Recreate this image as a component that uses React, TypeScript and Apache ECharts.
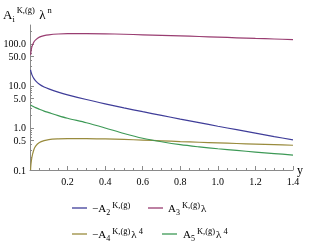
import React, { useEffect, useRef } from "react";
import * as echarts from "echarts";

const SERIF = "'Liberation Serif', 'DejaVu Serif', serif";

// lambda grid (x values)
const lambdas = [0.003, 0.005, 0.01, 0.02, 0.03, 0.05, 0.075, 0.1, 0.15, 0.2, 0.3, 0.4, 0.5, 0.6, 0.7, 0.8, 0.9, 1.0, 1.1, 1.2, 1.3, 1.4];
// -A2 lambda
const seriesA2 = [24.0, 21.9, 18.6, 15.1, 13.2, 10.96, 9.42, 8.49, 7.14, 6.15, 4.75, 3.76, 3.01, 2.44, 1.99, 1.63, 1.34, 1.1, 0.91, 0.753, 0.625, 0.52];
// A3 lambda
const seriesA3 = [55, 65, 85, 110, 125, 145, 158, 165, 172, 175, 176, 174, 170, 165, 160, 155, 150, 145, 140, 135, 131, 127];
// -A4 lambda^4
const seriesA4 = [0.1, 0.135, 0.2, 0.3, 0.37, 0.45, 0.5, 0.53, 0.55, 0.56, 0.56, 0.55, 0.535, 0.515, 0.495, 0.475, 0.458, 0.442, 0.427, 0.413, 0.4, 0.388];
// A5 lambda^4
const seriesA5 = [3.5, 3.47, 3.38, 3.2, 3.05, 2.8, 2.52, 2.32, 1.97, 1.7, 1.33, 1.0, 0.74, 0.57, 0.47, 0.4, 0.355, 0.32, 0.292, 0.267, 0.246, 0.227];

const yMajorTicks = [0.1, 0.5, 1, 5, 10, 50, 100];
const yMinorTicks = [0.2, 0.3, 0.4, 0.6, 0.7, 0.8, 0.9, 2, 3, 4, 6, 7, 8, 9, 20, 30, 40, 60, 70, 80, 90, 200];
const yMin = 0.1;
const yMax = 282;

const colors = ["#3F3D99", "#993D71", "#998B3D", "#3D9956"];

const legendRich = {
  m: { fontSize: 11, fontFamily: SERIF, lineHeight: 16, verticalAlign: "middle", fill: "#000" },
  sub: { fontSize: 8, fontFamily: SERIF, lineHeight: 7, verticalAlign: "bottom", fill: "#000" },
  sup: { fontSize: 8.5, fontFamily: SERIF, lineHeight: 7, verticalAlign: "top", fill: "#000", padding: [0, 1, 0, 2] },
};
const titleRich = {
  m: { fontSize: 13, fontFamily: SERIF, lineHeight: 18, verticalAlign: "middle", fill: "#000" },
  sub: { fontSize: 8.5, fontFamily: SERIF, lineHeight: 8, verticalAlign: "bottom", fill: "#000" },
  sup: { fontSize: 8.5, fontFamily: SERIF, lineHeight: 8, verticalAlign: "top", fill: "#000", padding: [0, 1, 0, 2] },
};

const legendItems = [
  { text: "{m|−A}{sub|2}{sup|K,(ḡ)}", lineX: 72, textX: 92, y: 208, color: colors[0] },
  { text: "{m|A}{sub|3}{sup|K,(ḡ)}{m|λ}", lineX: 148, textX: 168, y: 208, color: colors[1] },
  { text: "{m|−A}{sub|4}{sup|K,(ḡ)}{m|λ}{sup|4}", lineX: 72, textX: 92, y: 234, color: colors[2] },
  { text: "{m|A}{sub|5}{sup|K,(ḡ)}{m|λ}{sup|4}", lineX: 162, textX: 183, y: 234, color: colors[3] },
];

export default function App() {
  const ref = useRef<HTMLDivElement>(null);
  useEffect(() => {
    if (!ref.current) return;
    const chart = echarts.init(ref.current, undefined, { renderer: "svg" });
    const mk = (vals: number[]) => lambdas.map((x, i) => [x, Math.log10(vals[i])]);
    const all = [seriesA2, seriesA3, seriesA4, seriesA5];
    const graphic: any[] = [
      {
        type: "text",
        x: 3,
        y: 14,
        style: { text: "{m|A}{sub|i}{sup|K,(ḡ)}{m| λ}{sup|n}", rich: titleRich, verticalAlign: "middle", align: "left" },
      },
    ];
    legendItems.forEach((it) => {
      graphic.push({
        type: "line",
        shape: { x1: it.lineX, y1: it.y, x2: it.lineX + 15, y2: it.y },
        style: { stroke: it.color, lineWidth: 1.3 },
      });
      graphic.push({
        type: "text",
        x: it.textX,
        y: it.y,
        style: { text: it.text, rich: legendRich, verticalAlign: "middle", align: "left" },
      });
    });
    chart.setOption({
      animation: false,
      grid: { left: 30, right: 16, top: 25, bottom: 79, containLabel: false },
      xAxis: {
        type: "value",
        min: 0,
        max: 1.4,
        interval: 0.2,
        name: "y",
        nameLocation: "end",
        nameGap: 4,
        nameTextStyle: { fontFamily: SERIF, fontSize: 12, color: "#000" },
        axisLine: { show: true, onZero: false, lineStyle: { color: "#8a8a8a", width: 1 } },
        axisTick: { show: true, inside: true, length: 4, lineStyle: { color: "#8a8a8a" } },
        minorTick: { show: true, splitNumber: 4, length: 2, lineStyle: { color: "#8a8a8a" } },
        splitLine: { show: false },
        axisLabel: {
          fontFamily: SERIF,
          fontSize: 10,
          color: "#000",
          margin: 6,
          showMaxLabel: true,
          formatter: (v: number) => (v === 0 ? "" : v.toFixed(1)),
        },
      },
      yAxis: [
        {
          type: "value",
          min: Math.log10(yMin),
          max: Math.log10(yMax),
          axisLine: { show: true, onZero: false, lineStyle: { color: "#8a8a8a", width: 1 } },
          axisTick: {
            show: true,
            inside: true,
            length: 4,
            customValues: yMajorTicks.map((v) => Math.log10(v)),
            lineStyle: { color: "#8a8a8a" },
          },
          splitLine: { show: false },
          axisLabel: {
            fontFamily: SERIF,
            fontSize: 10,
            color: "#000",
            margin: 4,
            customValues: yMajorTicks.map((v) => Math.log10(v)),
            formatter: (v: number) => Math.pow(10, v).toFixed(1),
          },
        },
        {
          type: "value",
          position: "left",
          min: Math.log10(yMin),
          max: Math.log10(yMax),
          axisLine: { show: false, onZero: false },
          axisTick: {
            show: true,
            inside: true,
            length: 2,
            customValues: yMinorTicks.map((v) => Math.log10(v)),
            lineStyle: { color: "#8a8a8a" },
          },
          axisLabel: { show: false },
          splitLine: { show: false },
        },
      ],
      series: all.map((vals, i) => ({
        type: "line",
        yAxisIndex: 0,
        data: mk(vals),
        smooth: 0.3,
        showSymbol: false,
        lineStyle: { color: colors[i], width: 1.2 },
        itemStyle: { color: colors[i] },
      })),
      graphic,
    });
    return () => chart.dispose();
  }, []);
  return <div ref={ref} style={{ position: "fixed", left: 0, top: 0, width: 309, height: 249 }} />;
}
